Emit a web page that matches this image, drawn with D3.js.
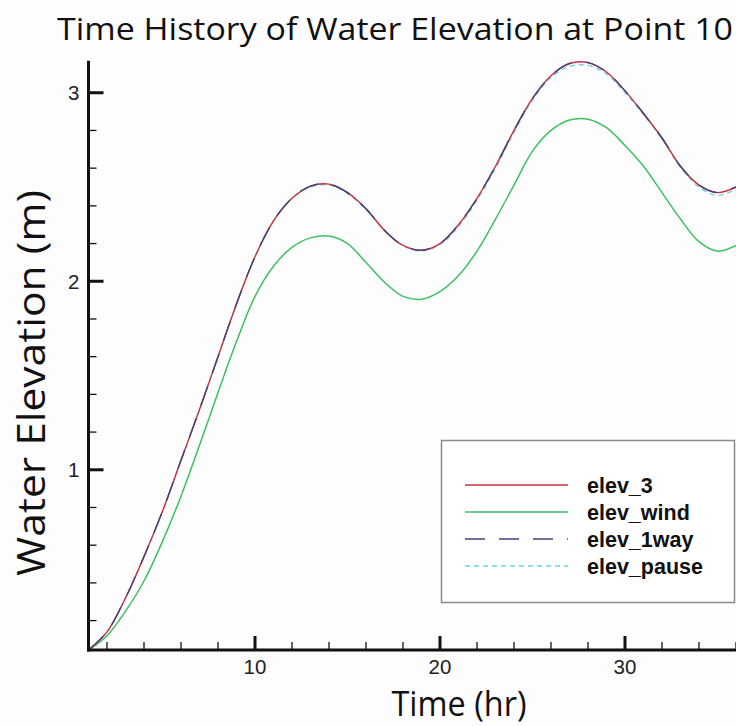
<!DOCTYPE html>
<html>
<head>
<meta charset="utf-8">
<script src="https://cdn.jsdelivr.net/npm/d3@7"></script>
<style>
    body { margin: 0; background: #ffffff; }
    svg { display: block; }
</style>
</head>
<body>
<div id="chart"></div>
<script>
// DATA //
const hours = [1, 2, 3, 4, 5, 6, 7, 8, 9, 10, 11, 12, 13, 14, 15, 16, 17, 18,
    19, 20, 21, 22, 23, 24, 25, 26, 27, 28, 29, 30, 31, 32, 33, 34, 35, 36]

const elev3 = [0.044, 0.14, 0.32, 0.54, 0.78, 1.05, 1.32, 1.60, 1.88, 2.13, 2.32, 2.44,
    2.505, 2.515, 2.47, 2.385, 2.27, 2.19, 2.165, 2.20, 2.30, 2.44, 2.61, 2.80,
    2.97, 3.09, 3.155, 3.16, 3.11, 3.01, 2.89, 2.76, 2.61, 2.51, 2.47, 2.50]

const elevWind = [0.044, 0.12, 0.25, 0.41, 0.62, 0.86, 1.13, 1.41, 1.68, 1.92, 2.08, 2.18,
    2.23, 2.24, 2.20, 2.10, 1.995, 1.92, 1.905, 1.945, 2.03, 2.16, 2.33, 2.51,
    2.69, 2.80, 2.855, 2.86, 2.815, 2.72, 2.61, 2.47, 2.33, 2.21, 2.16, 2.19]

const elev1way = [0.044, 0.14, 0.32, 0.54, 0.78, 1.05, 1.32, 1.60, 1.88, 2.13, 2.32, 2.44,
    2.505, 2.515, 2.47, 2.385, 2.27, 2.19, 2.165, 2.20, 2.30, 2.44, 2.61, 2.80,
    2.97, 3.09, 3.155, 3.16, 3.11, 3.01, 2.89, 2.76, 2.61, 2.51, 2.47, 2.50]

const elevPause = [0.044, 0.14, 0.32, 0.54, 0.78, 1.05, 1.32, 1.60, 1.88, 2.13, 2.32, 2.44,
    2.50, 2.51, 2.465, 2.38, 2.27, 2.19, 2.16, 2.195, 2.29, 2.43, 2.60, 2.79,
    2.96, 3.08, 3.14, 3.145, 3.10, 3.00, 2.885, 2.755, 2.605, 2.50, 2.455, 2.49]

const seriesNames = ["elev_3", "elev_wind", "elev_1way", "elev_pause"]
const seriesValues = [elev3, elevWind, elev1way, elevPause]

const xMajorTicks = [10, 20, 30]
const yMajorTicks = [1, 2, 3]

// GLOBAL VARIABLES //
let dimensions = {
    width: 736,
    height: 726,
    margin: {
        top: 60.7,
        left: 88.5,
        bottom: 76,
    },
}

// styles per series, drawn in this order (pause underneath)
const styles = {
    "elev_pause": { color: "#6fd3e0", width: 1.4, dash: "5,4" },
    "elev_wind": { color: "#3cc060", width: 1.5, dash: null },
    "elev_3": { color: "#c8303e", width: 1.4, dash: null },
    "elev_1way": { color: "#47407a", width: 1.4, dash: "20,14" },
}
const drawOrder = ["elev_pause", "elev_wind", "elev_3", "elev_1way"]

// Create scales
const xScale = d3.scaleLinear()
    .domain([1, 37])
    .range([dimensions.margin.left, dimensions.margin.left + 36 * 18.5])

const yScale = d3.scaleLinear()
    .domain([0.044, 3.17])
    .range([dimensions.height - dimensions.margin.bottom, dimensions.margin.top])

const xAccessor = d => d.x
const yAccessor = d => d.y

function drawChart() {
    const svg = d3.select("#chart")
        .append("svg")
        .attr("width", dimensions.width)
        .attr("height", dimensions.height)

    svg.append("rect")
        .attr("width", dimensions.width)
        .attr("height", dimensions.height)
        .attr("fill", "#fdfdfd")

    const x0 = xScale(1)
    const y0 = yScale(0.044)

    svg.append("clipPath")
        .attr("id", "plot-clip")
        .append("rect")
        .attr("x", x0)
        .attr("y", yScale(3.17) - 5)
        .attr("width", dimensions.width - x0)
        .attr("height", y0 - yScale(3.17) + 5)

    // title
    svg.append("text")
        .attr("x", 57)
        .attr("y", 40)
        .attr("font-family", "Open Sans")
        .attr("font-size", 31)
        .attr("fill", "#111")
        .attr("textLength", 676)
        .attr("lengthAdjust", "spacingAndGlyphs")
        .text("Time History of Water Elevation at Point 10")

    // curves
    const lineGen = d3.line()
        .x(d => xScale(xAccessor(d)))
        .y(d => yScale(yAccessor(d)))
        .curve(d3.curveCatmullRom.alpha(0.5))

    const curves = svg.append("g").attr("clip-path", "url(#plot-clip)")
    drawOrder.forEach(name => {
        const values = seriesValues[seriesNames.indexOf(name)]
        const data = hours.map((h, i) => ({ x: h, y: values[i] }))
        const st = styles[name]
        curves.append("path")
            .datum(data)
            .attr("d", lineGen)
            .attr("fill", "none")
            .attr("stroke", st.color)
            .attr("stroke-width", st.width)
            .attr("stroke-dasharray", st.dash)
    })

    // x axis
    const xMinor = d3.range(2, 37, 2).filter(v => !xMajorTicks.includes(v))
    const xAxisG = svg.append("g")
    xAxisG.selectAll(".minor").data(xMinor).join("line")
        .attr("x1", d => xScale(d)).attr("x2", d => xScale(d))
        .attr("y1", y0).attr("y2", y0 - 8)
        .attr("stroke", "#111").attr("stroke-width", 1.3)
    xAxisG.selectAll(".major").data(xMajorTicks).join("line")
        .attr("x1", d => xScale(d)).attr("x2", d => xScale(d))
        .attr("y1", y0).attr("y2", y0 - 14)
        .attr("stroke", "#111").attr("stroke-width", 3)
    xAxisG.selectAll("text").data(xMajorTicks).join("text")
        .attr("x", d => xScale(d))
        .attr("y", y0 + 24)
        .attr("text-anchor", "middle")
        .attr("font-family", "Liberation Sans")
        .attr("font-size", 20.5)
        .attr("fill", "#222")
        .text(d => d)

    // y axis
    const yMinor = d3.range(0.2, 3.15, 0.2).filter(v => Math.abs(v - Math.round(v)) > 0.01)
    const yAxisG = svg.append("g")
    yAxisG.selectAll(".minor").data(yMinor).join("line")
        .attr("x1", x0).attr("x2", x0 + 8)
        .attr("y1", d => yScale(d)).attr("y2", d => yScale(d))
        .attr("stroke", "#111").attr("stroke-width", 1.3)
    yAxisG.selectAll(".major").data(yMajorTicks).join("line")
        .attr("x1", x0).attr("x2", x0 + 15)
        .attr("y1", d => yScale(d)).attr("y2", d => yScale(d))
        .attr("stroke", "#111").attr("stroke-width", 3)
    yAxisG.selectAll("text").data(yMajorTicks).join("text")
        .attr("x", x0 - 9)
        .attr("y", d => yScale(d) + 7.5)
        .attr("text-anchor", "end")
        .attr("font-family", "Liberation Sans")
        .attr("font-size", 20.5)
        .attr("fill", "#222")
        .text(d => d)

    // axis lines
    svg.append("line")
        .attr("x1", x0 - 1.5).attr("x2", dimensions.width)
        .attr("y1", y0).attr("y2", y0)
        .attr("stroke", "#111").attr("stroke-width", 3)
    svg.append("line")
        .attr("x1", x0).attr("x2", x0)
        .attr("y1", y0 + 1.5).attr("y2", yScale(3.17))
        .attr("stroke", "#111").attr("stroke-width", 3)

    // axis titles
    svg.append("text")
        .attr("x", 459)
        .attr("y", 716)
        .attr("text-anchor", "middle")
        .attr("font-family", "Open Sans")
        .attr("font-size", 35)
        .attr("fill", "#111")
        .attr("textLength", 135)
        .attr("lengthAdjust", "spacingAndGlyphs")
        .text("Time (hr)")

    svg.append("text")
        .attr("transform", "translate(45, 383) rotate(-90)")
        .attr("text-anchor", "middle")
        .attr("font-family", "Open Sans")
        .attr("font-size", 38)
        .attr("fill", "#111")
        .attr("textLength", 386)
        .attr("lengthAdjust", "spacingAndGlyphs")
        .text("Water Elevation (m)")

    // legend
    const legend = svg.append("g")
    legend.append("rect")
        .attr("x", 441.5)
        .attr("y", 440.5)
        .attr("width", 293)
        .attr("height", 162)
        .attr("fill", "#ffffff")
        .attr("stroke", "#8a8a8a")
        .attr("stroke-width", 1.5)

    seriesNames.forEach((name, i) => {
        const st = styles[name]
        const cy = 485 + i * 27
        legend.append("line")
            .attr("x1", 465).attr("x2", 568)
            .attr("y1", cy).attr("y2", cy)
            .attr("stroke", st.color)
            .attr("stroke-width", st.width)
            .attr("stroke-dasharray", st.dash)
        legend.append("text")
            .attr("x", 587)
            .attr("y", cy + 7.5)
            .attr("font-family", "Liberation Sans")
            .attr("font-weight", "bold")
            .attr("font-size", 21.5)
            .attr("fill", "#111")
            .text(name)
    })
}

drawChart()
</script>
</body>
</html>
